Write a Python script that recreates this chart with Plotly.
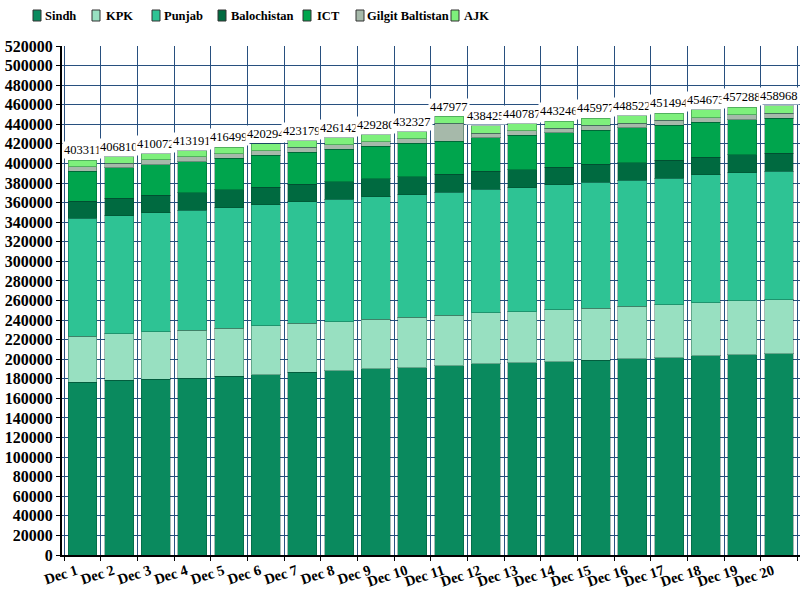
import plotly.graph_objects as go

categories = ["Dec 1", "Dec 2", "Dec 3", "Dec 4", "Dec 5", "Dec 6", "Dec 7", "Dec 8", "Dec 9", "Dec 10",
              "Dec 11", "Dec 12", "Dec 13", "Dec 14", "Dec 15", "Dec 16", "Dec 17", "Dec 18", "Dec 19", "Dec 20"]

totals = [403311, 406810, 410072, 413191, 416499, 420294, 423179, 426142, 429280, 432327,
          447977, 438425, 440787, 443246, 445977, 448522, 451494, 454673, 457288, 458968]

sindh = [176400, 178500, 179500, 180500, 182600, 184300, 186700, 188400, 190200, 191200,
         193200, 195300, 196300, 197600, 199000, 200400, 201400, 203500, 204500, 205500]
kpk = [47100, 47500, 48500, 49100, 49300, 50000, 50000, 50000, 50700, 51500,
       51800, 52000, 52300, 52900, 53200, 53600, 54100, 54400, 55000, 55100]
punjab = [120500, 120600, 121500, 122600, 123100, 123400, 124100, 124800, 125000, 125200,
          125700, 126200, 126500, 127600, 128600, 128800, 129500, 130500, 131200, 131400]
balochistan = [17200, 18000, 17900, 18100, 18100, 18100, 18100, 18100, 18300, 18500,
               18200, 18500, 18600, 18000, 18200, 18100, 18200, 18000, 18300, 18600]
ict = [30800, 30900, 31500, 31600, 32100, 32600, 32800, 33100, 33400, 34200,
       33900, 34200, 35100, 35100, 35000, 35400, 35900, 35500, 35800, 35700]
gilgit = [4800, 4900, 4800, 4800, 4800, 4800, 4800, 4900, 4800, 4800,
          18300, 4900, 4800, 4800, 4800, 4800, 4800, 4900, 4800, 4900]
ajk = [6500, 6400, 6400, 6500, 6500, 7100, 6700, 6800, 6900, 6900,
       6900, 7300, 7200, 7200, 7200, 7400, 7600, 7900, 7700, 7800]

series_names = ["Sindh", "KPK", "Punjab", "Balochistan", "ICT", "Gilgit Baltistan", "AJK"]
series_values = [sindh, kpk, punjab, balochistan, ict, gilgit, ajk]
series_colors = ["#0a8a5e", "#98e0c1", "#2ec394", "#006a40", "#00a54d", "#a6b9aa", "#7ef07c"]

SERIF = "Liberation Serif, Times New Roman, serif"

W, H = 801, 591
ML, MR, MT, MB = 62, 1, 46, 36
PW, PH = W - ML - MR, H - MT - MB


def px_x(px):
    return (px - ML) / PW


def px_y(py):
    return (H - MB - py) / PH


fig = go.Figure()
for name, vals, color in zip(series_names, series_values, series_colors):
    fig.add_trace(go.Bar(
        name=name, x=categories, y=vals, showlegend=False,
        marker=dict(color=color, line=dict(color="rgba(0,60,40,0.35)", width=1)),
    ))

for cat, tot in zip(categories, totals):
    fig.add_annotation(
        x=cat, y=tot, text=str(tot), showarrow=False,
        yanchor="bottom", yshift=1, bgcolor="white", borderpad=1,
        font=dict(family=SERIF, size=12.5, color="black"),
    )

# legend row (swatch + label) along the top
legend_swatch_px = [33, 92, 152, 218, 303, 356, 451]
legend_text_px = [43, 104, 162, 229, 315, 365, 462]
for name, color, sx, tx in zip(series_names, series_colors, legend_swatch_px, legend_text_px):
    fig.add_shape(
        type="rect", xref="paper", yref="paper",
        x0=px_x(sx), x1=px_x(sx + 8), y0=px_y(21), y1=px_y(10),
        fillcolor=color, line=dict(color="#333333", width=1), layer="above",
    )
    fig.add_annotation(
        xref="paper", yref="paper", x=px_x(tx), y=px_y(16),
        xanchor="left", yanchor="middle", showarrow=False, text=name,
        font=dict(family=SERIF, size=12.5, color="black", weight="bold"),
    )

grid_color = "#28507f"
fig.update_layout(
    barmode="stack",
    bargap=0.21,
    width=W, height=H,
    margin=dict(l=ML, r=MR, t=MT, b=MB, autoexpand=False),
    paper_bgcolor="white",
    plot_bgcolor="white",
    showlegend=False,
    xaxis=dict(
        type="category", tickson="boundaries", showgrid=True, gridcolor=grid_color, gridwidth=1,
        ticks="outside", ticklen=4, tickcolor="black",
        showline=True, linecolor="black", linewidth=2,
        tickangle=-18, automargin=False, ticklabelshift=-6,
        tickfont=dict(family=SERIF, size=14.5, color="black", weight="bold"),
    ),
    yaxis=dict(
        range=[0, 520000], dtick=20000, showgrid=True, gridcolor=grid_color, gridwidth=1,
        ticks="outside", ticklen=4, tickcolor="black",
        showline=True, linecolor="black", linewidth=2, automargin=False,
        tickfont=dict(family=SERIF, size=16, color="black", weight="bold"),
        tickformat="d", zeroline=False,
    ),
)

fig.write_html("out.html", config={"displayModeBar": False},
               post_script="document.body.style.margin='0px';")
